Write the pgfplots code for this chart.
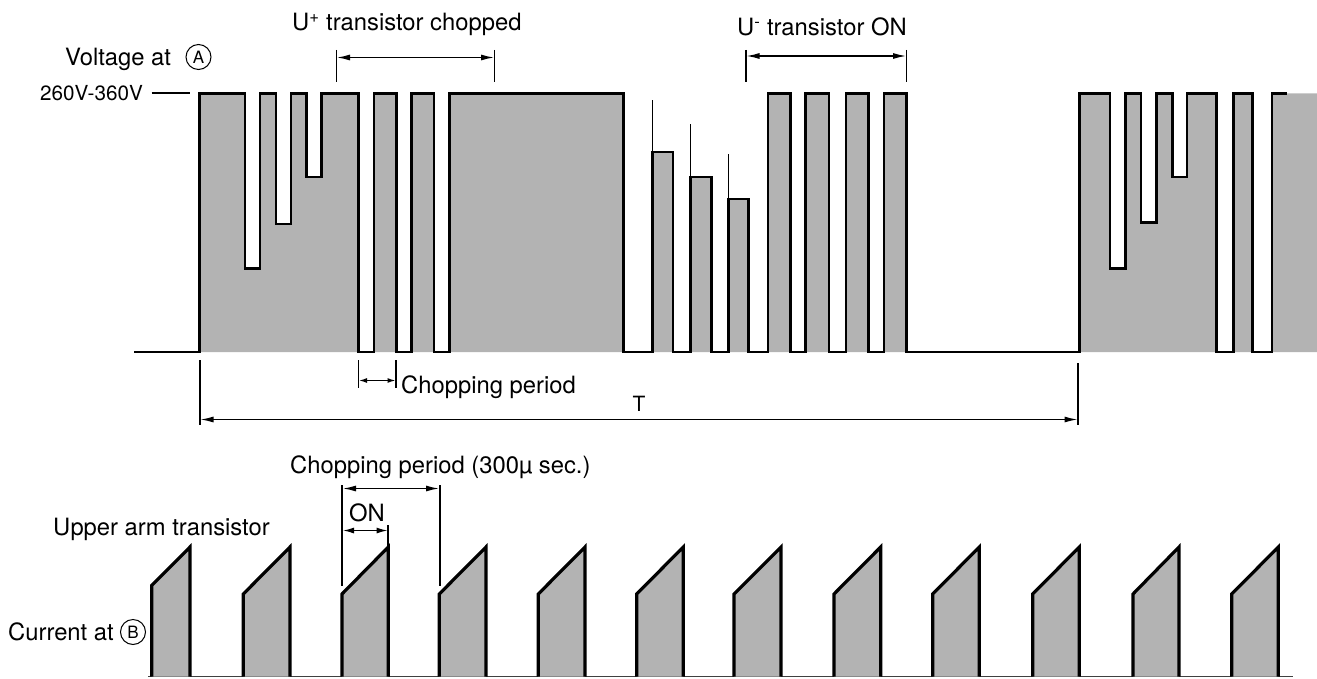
\documentclass[border=0pt]{standalone}
\usepackage{fontspec}
\setmainfont{TeX Gyre Heros}
\usepackage{pgfplots}
\pgfplotsset{compat=1.18}
\usetikzlibrary{arrows.meta}
\definecolor{gfill}{RGB}{179,179,179}
\tikzset{
  lbl/.style={inner sep=0pt, font=\fontsize{23.8bp}{28bp}\selectfont},
  darr/.style={{Latex[length=13bp,width=6bp]}-{Latex[length=13bp,width=6bp]}, line width=1.3bp},
}
\begin{document}
\begin{tikzpicture}
\begin{axis}[
  scale only axis, width=1317bp, height=678bp,
  xmin=0, xmax=1317, ymin=0, ymax=678, y dir=reverse,
  hide axis, clip=false,
]
\path (axis cs:0,0) rectangle (axis cs:1317,678);
% ---------- upper waveform: fill ----------
\addplot[fill=gfill, draw=none] coordinates {
(134,352) (199.5,352) (199.5,93.5) (245,93.5) (245,268.5) (260,268.5) (260,93.5) (276,93.5) (276,224) (291,224) (291,93.5) (306.5,93.5) (306.5,177) (321.5,177) (321.5,93.5) (358.5,93.5) (358.5,352) (374,352) (374,93.5) (396.5,93.5) (396.5,352) (411.5,352) (411.5,93.5) (434,93.5) (434,352) (449.5,352) (449.5,93.5) (623.5,93.5) (623.5,352) (652.5,352) (652.5,152) (673,152) (673,352) (690.5,352) (690.5,177) (711.5,177) (711.5,352) (728.5,352) (728.5,199) (748.5,199) (748.5,352) (768,352) (768,93.5) (790.5,93.5) (790.5,352) (805.5,352) (805.5,93.5) (829,93.5) (829,352) (846,352) (846,93.5) (868.5,93.5) (868.5,352) (884,352) (884,93.5) (906.5,93.5) (906.5,352) (1079.5,352) (1079.5,93.5) (1110,93.5) (1110,268.5) (1125.5,268.5) (1125.5,93.5) (1141,93.5) (1141,222.5) (1156.5,222.5) (1156.5,93.5) (1172.5,93.5) (1172.5,177) (1187,177) (1187,93.5) (1216.5,93.5) (1216.5,352) (1233.5,352) (1233.5,93.5) (1252.5,93.5) (1252.5,352) (1272,352) (1272,93.5) (1287,93.5) (1317,93.5) (1317,352)
};
% ---------- upper waveform: outline ----------
\addplot[black, line width=2.7bp, no marks] coordinates {
(134,352) (199.5,352) (199.5,93.5) (245,93.5) (245,268.5) (260,268.5) (260,93.5) (276,93.5) (276,224) (291,224) (291,93.5) (306.5,93.5) (306.5,177) (321.5,177) (321.5,93.5) (358.5,93.5) (358.5,352) (374,352) (374,93.5) (396.5,93.5) (396.5,352) (411.5,352) (411.5,93.5) (434,93.5) (434,352) (449.5,352) (449.5,93.5) (623.5,93.5) (623.5,352) (652.5,352) (652.5,152) (673,152) (673,352) (690.5,352) (690.5,177) (711.5,177) (711.5,352) (728.5,352) (728.5,199) (748.5,199) (748.5,352) (768,352) (768,93.5) (790.5,93.5) (790.5,352) (805.5,352) (805.5,93.5) (829,93.5) (829,352) (846,352) (846,93.5) (868.5,93.5) (868.5,352) (884,352) (884,93.5) (906.5,93.5) (906.5,352) (1079.5,352) (1079.5,93.5) (1110,93.5) (1110,268.5) (1125.5,268.5) (1125.5,93.5) (1141,93.5) (1141,222.5) (1156.5,222.5) (1156.5,93.5) (1172.5,93.5) (1172.5,177) (1187,177) (1187,93.5) (1216.5,93.5) (1216.5,352) (1233.5,352) (1233.5,93.5) (1252.5,93.5) (1252.5,352) (1272,352) (1272,93.5) (1287,93.5)
};
% spikes
\addplot[black, line width=1.4bp] coordinates {(652.5,152) (652.5,100.5)};
\addplot[black, line width=1.4bp] coordinates {(690.5,177) (690.5,124)};
\addplot[black, line width=1.4bp] coordinates {(728.5,199) (728.5,154)};
% level dash
\addplot[black, line width=1.8bp] coordinates {(151.5,93) (190,93)};
% ---------- lower waveform ----------
\addplot[black!75, line width=1.6bp] coordinates {(148,676.5) (1293,676.5)};
\addplot[fill=gfill, draw=black, line width=3.2bp] coordinates {(151.7,676.5) (151.7,585.5) (190,547) (190,676.5)};
\addplot[fill=gfill, draw=black, line width=3.2bp] coordinates {(243.3,676.5) (243.3,594) (290,547) (290,676.5)};
\addplot[fill=gfill, draw=black, line width=3.2bp] coordinates {(342,676.5) (342,594) (388.3,547) (388.3,676.5)};
\addplot[fill=gfill, draw=black, line width=3.2bp] coordinates {(439.3,676.5) (439.3,594) (486,547) (486,676.5)};
\addplot[fill=gfill, draw=black, line width=3.2bp] coordinates {(538.3,676.5) (538.3,594) (585,547) (585,676.5)};
\addplot[fill=gfill, draw=black, line width=3.2bp] coordinates {(636.7,676.5) (636.7,594) (683.3,547) (683.3,676.5)};
\addplot[fill=gfill, draw=black, line width=3.2bp] coordinates {(734,676.5) (734,594) (781,547) (781,676.5)};
\addplot[fill=gfill, draw=black, line width=3.2bp] coordinates {(834,676.5) (834,594) (880.7,547) (880.7,676.5)};
\addplot[fill=gfill, draw=black, line width=3.2bp] coordinates {(932.7,676.5) (932.7,594) (979.3,547) (979.3,676.5)};
\addplot[fill=gfill, draw=black, line width=3.2bp] coordinates {(1032.7,676.5) (1032.7,594) (1079.3,547) (1079.3,676.5)};
\addplot[fill=gfill, draw=black, line width=3.2bp] coordinates {(1133,676.5) (1133,594) (1179,547) (1179,676.5)};
\addplot[fill=gfill, draw=black, line width=3.2bp] coordinates {(1231.7,676.5) (1231.7,594) (1278.3,547) (1278.3,676.5)};

% ---------- annotations ----------
\node[lbl, anchor=base west] at (axis cs:65,66) {Voltage at};
\node[circle, draw, line width=1bp, minimum size=25bp, inner sep=0pt, font=\fontsize{17bp}{20bp}\selectfont] at (axis cs:198.5,57) {A};
\node[inner sep=0pt, anchor=base west, font=\fontsize{20.7bp}{24bp}\selectfont] at (axis cs:40,100) {260V-360V};
\node[lbl, anchor=base west] at (axis cs:292,31) {U\textsuperscript{+}\ transistor chopped};
\node[lbl, anchor=base west] at (axis cs:737,36) {U\textsuperscript{-}\ transistor ON};
% U+ bracket
\draw[line width=1.3bp] (axis cs:336.5,50) -- (axis cs:336.5,82);
\draw[line width=1.3bp] (axis cs:494.5,50) -- (axis cs:494.5,82);
\draw[darr] (axis cs:337,57.5) -- (axis cs:494,57.5);
% U- bracket
\draw[line width=1.3bp] (axis cs:746,50) -- (axis cs:746,82);
\draw[line width=1.3bp] (axis cs:906.5,50) -- (axis cs:906.5,82);
\draw[darr] (axis cs:746.5,56) -- (axis cs:906,56);
% chopping period (upper)
\draw[line width=1.6bp] (axis cs:358.5,360) -- (axis cs:358.5,388);
\draw[line width=1.6bp] (axis cs:396,360) -- (axis cs:396,388);
\draw[{Latex[length=8bp,width=5bp]}-{Latex[length=8bp,width=5bp]}, line width=1.3bp] (axis cs:359,380.5) -- (axis cs:395.5,380.5);
\node[lbl, anchor=base west] at (axis cs:401,393) {Chopping period};
% T
\draw[line width=1.8bp] (axis cs:200,360) -- (axis cs:200,425);
\draw[line width=1.8bp] (axis cs:1078,363) -- (axis cs:1078,425);
\draw[darr] (axis cs:200.5,419.5) -- (axis cs:1077.5,419.5);
\node[inner sep=0pt, anchor=base, font=\fontsize{21bp}{25bp}\selectfont] at (axis cs:639,411) {T};
% lower annotations
\node[lbl, anchor=base west] at (axis cs:290,473) {Chopping period (300µ sec.)};
\draw[line width=2bp] (axis cs:342,485) -- (axis cs:342,586);
\draw[line width=2bp] (axis cs:440,485) -- (axis cs:440,586);
\draw[darr] (axis cs:343,488.5) -- (axis cs:439,488.5);
\node[lbl, anchor=base] at (axis cs:367,521.5) {ON};
\draw[line width=2bp] (axis cs:388.3,525) -- (axis cs:388.3,548);
\draw[{Latex[length=11bp,width=6bp]}-{Latex[length=11bp,width=6bp]}, line width=1.3bp] (axis cs:343,530.5) -- (axis cs:387.5,530.5);
\node[lbl, anchor=base west] at (axis cs:53,535) {Upper arm transistor};
\node[lbl, anchor=base west] at (axis cs:8,640) {Current at};
\node[circle, draw, line width=1bp, minimum size=25bp, inner sep=0pt, font=\fontsize{17bp}{20bp}\selectfont] at (axis cs:133,632) {B};
\end{axis}
\end{tikzpicture}
\end{document}
